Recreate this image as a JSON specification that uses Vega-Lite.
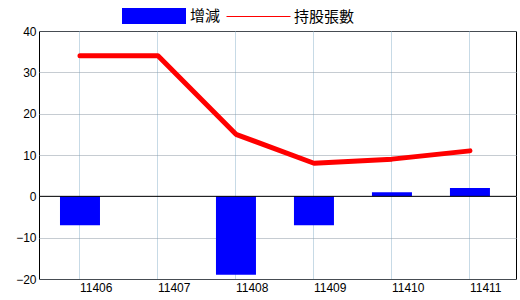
{
  "$schema": "https://vega.github.io/schema/vega-lite/v6.json",
  "width": 477,
  "height": 248,
  "autosize": "none",
  "padding": {"left": 39, "top": 31, "right": 4, "bottom": 21},
  "config": {
    "view": {"stroke": "#000000", "strokeWidth": 1},
    "font": "Liberation Sans"
  },
  "data": {
    "values": [
      {"month": "11406", "chg": -7, "hold": 34},
      {"month": "11407", "chg": 0, "hold": 34},
      {"month": "11408", "chg": -19, "hold": 15},
      {"month": "11409", "chg": -7, "hold": 8},
      {"month": "11410", "chg": 1, "hold": 9},
      {"month": "11411", "chg": 2, "hold": 11}
    ]
  },
  "layer": [
    {
      "mark": {"type": "bar", "size": 40, "color": "#0000ff"},
      "encoding": {
        "x": {
          "field": "month", "type": "ordinal", "sort": null,
          "scale": {"paddingInner": 0, "paddingOuter": 0.058, "align": 0.22},
          "axis": {
            "title": null, "domain": false, "ticks": false, "grid": true,
            "bandPosition": 0.5,
            "gridColor": "#8fb4cc", "gridDash": [1, 1], "labelAlign": "left",
            "labelDx": 2, "labelAngle": 0, "labelPadding": 3, "labelBaseline": "top",
            "labelFontSize": 12, "labelColor": "#000000"
          }
        },
        "y": {
          "field": "chg", "type": "quantitative",
          "scale": {"domain": [-20, 40], "nice": false, "zero": false},
          "axis": {
            "title": null, "values": [-20, -10, 0, 10, 20, 30, 40], "domain": false,
            "ticks": false, "grid": true, "gridColor": "#8c98a4", "gridDash": [1, 1],
            "labelPadding": 3, "labelFontSize": 12, "labelColor": "#000000"
          }
        },
        "fill": {
          "datum": "增減", "type": "nominal",
          "scale": {"range": ["#0000ff"]},
          "legend": {
            "title": null, "orient": "none", "legendX": 83, "legendY": -47,
            "symbolType": "M-1,-0.25H1V0.25H-1Z", "symbolSize": 4096,
            "symbolStrokeWidth": 0, "labelFontSize": 15, "labelFont": "Noto Sans CJK TC",
            "labelOffset": 4, "labelColor": "#000000"
          }
        }
      }
    },
    {
      "data": {"values": [{}]},
      "mark": {"type": "rule", "color": "#000000", "strokeWidth": 1},
      "encoding": {"y": {"datum": 0, "type": "quantitative"}}
    },
    {
      "mark": {"type": "line", "color": "#ff0000", "strokeWidth": 5, "strokeJoin": "round", "strokeCap": "round"},
      "encoding": {
        "x": {"field": "month", "type": "ordinal", "sort": null},
        "y": {"field": "hold", "type": "quantitative"},
        "stroke": {
          "datum": "持股張數", "type": "nominal",
          "scale": {"range": ["#ff0000"]},
          "legend": {
            "title": null, "orient": "none", "legendX": 187, "legendY": -47,
            "symbolType": "stroke", "symbolSize": 4096, "symbolStrokeWidth": 1,
            "labelFontSize": 15, "labelFont": "Noto Sans CJK TC",
            "labelOffset": 3, "labelColor": "#000000"
          }
        }
      }
    }
  ]
}
